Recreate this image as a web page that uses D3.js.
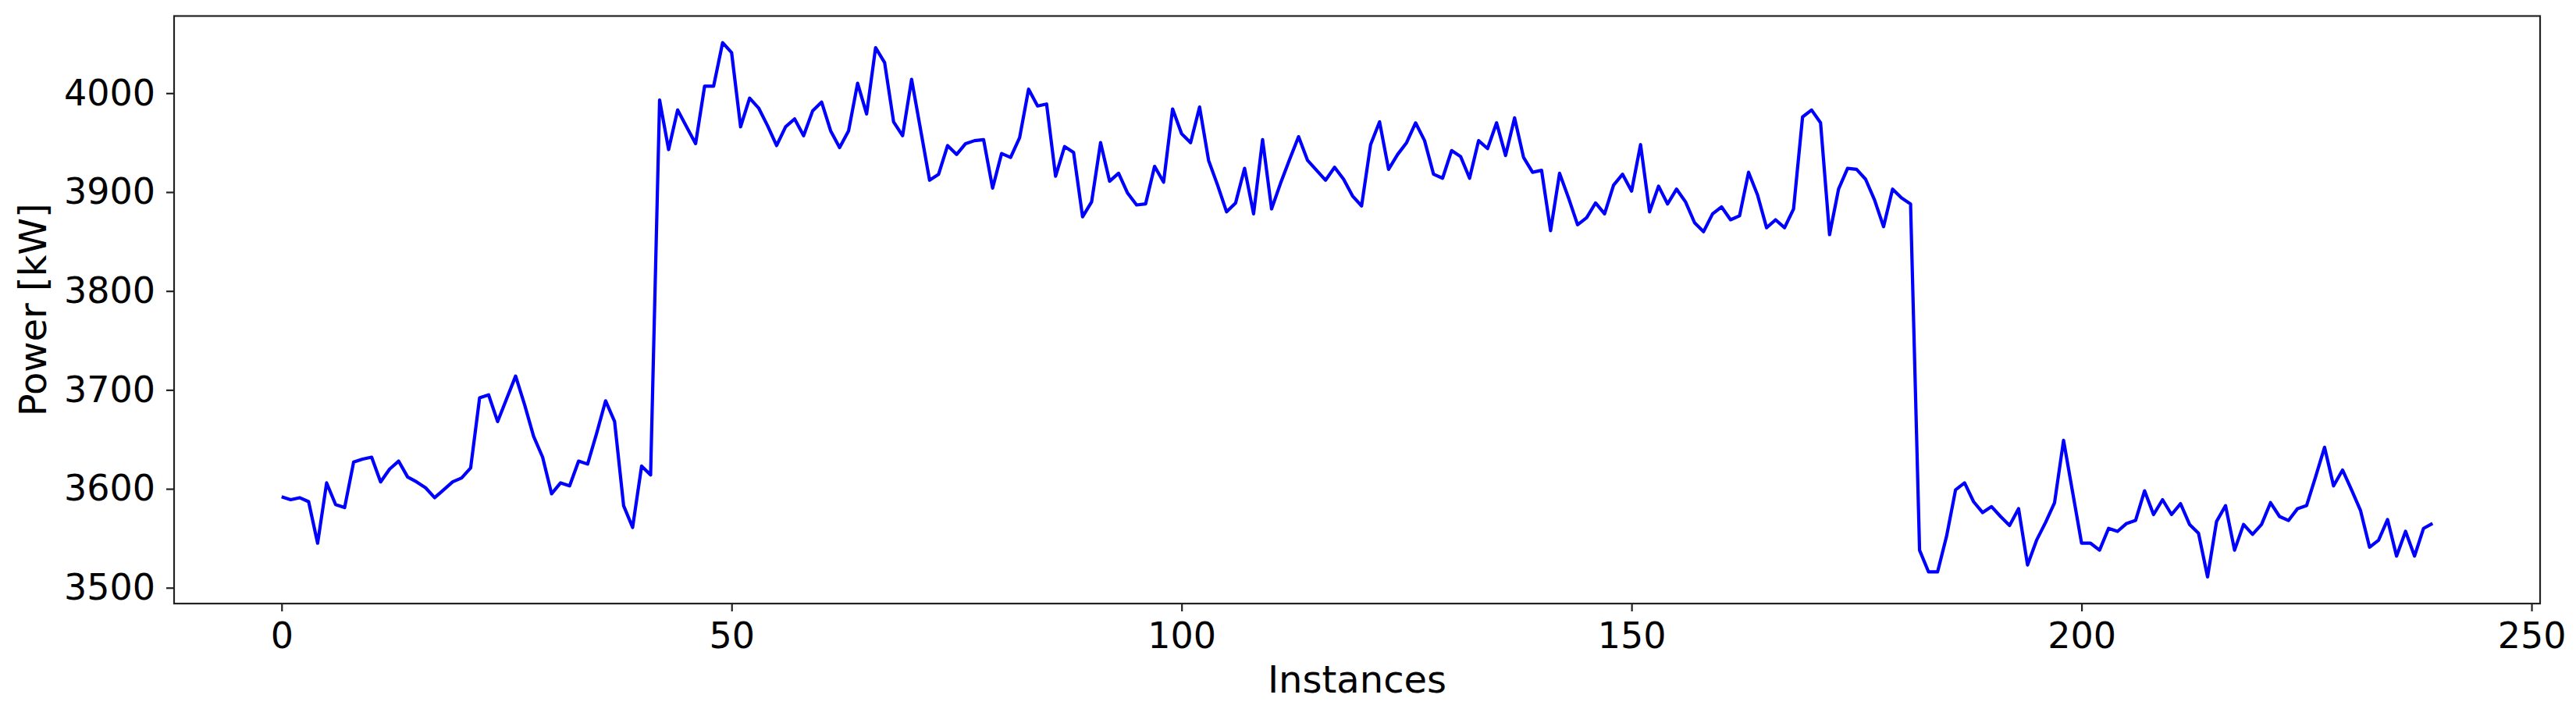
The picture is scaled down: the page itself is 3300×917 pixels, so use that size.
<!DOCTYPE html>
<html>
<head>
<meta charset="utf-8">
<script src="https://cdn.jsdelivr.net/npm/d3@7/dist/d3.min.js"></script>
<style>
  html, body { margin: 0; padding: 0; background: #fff; }
  svg { display: block; }
  text { font-family: "DejaVu Sans", sans-serif; fill: #000; }
</style>
</head>
<body>
<svg id="chart" width="3300" height="917"></svg>
<script>
// ---- data ----
const power = [
  3592, 3589, 3591, 3587, 3545, 3606, 3584, 3581, 3627, 3630,
  3632, 3607, 3620, 3628, 3612, 3607, 3601, 3591, 3599, 3607,
  3611, 3621, 3692, 3695, 3668, 3691, 3714, 3685, 3653, 3632,
  3595, 3606, 3603, 3628, 3625, 3656, 3689, 3668, 3583, 3561,
  3623, 3614, 3993, 3943, 3983, 3966, 3949, 4007, 4007, 4051,
  4041, 3966, 3995, 3985, 3967, 3947, 3966, 3974, 3957, 3982,
  3991, 3962, 3945, 3962, 4010, 3979, 4046, 4031, 3971, 3957,
  4014, 3963, 3912, 3918, 3947, 3938, 3949, 3952, 3953, 3904,
  3939, 3935, 3955, 4004, 3987, 3989, 3916, 3946, 3940, 3875,
  3890, 3950, 3911, 3919, 3899, 3887, 3888, 3926, 3910, 3984,
  3959, 3950, 3986, 3932, 3907, 3880, 3889, 3924, 3878, 3953,
  3883, 3909, 3933, 3956, 3932, 3922, 3912, 3925, 3913, 3896,
  3886, 3948, 3971, 3923, 3938, 3950, 3970, 3952, 3918, 3914,
  3942, 3936, 3914, 3952, 3944, 3970, 3937, 3975, 3935, 3920,
  3922, 3861, 3919, 3894, 3867, 3874, 3889, 3878, 3907, 3918,
  3901, 3948, 3880, 3906, 3888, 3903, 3890, 3869, 3860, 3878,
  3885, 3872, 3876, 3920, 3897, 3864, 3872, 3864, 3883, 3976,
  3983, 3970, 3857, 3903, 3924, 3923, 3913, 3892, 3865, 3903,
  3894, 3888, 3538, 3516, 3516, 3552, 3599, 3606, 3587, 3576,
  3582, 3572, 3563, 3580, 3523, 3548, 3566, 3586, 3649, 3597,
  3545, 3545, 3538, 3560, 3557, 3565, 3568, 3598, 3574, 3589,
  3574, 3585, 3564, 3555, 3511, 3567, 3583, 3538, 3564, 3554,
  3564, 3586, 3572, 3568, 3580, 3583, 3612, 3642, 3603, 3619,
  3599, 3578, 3541, 3548, 3569, 3532, 3557, 3532, 3560, 3565
];
const instances = power.map((_, i) => i);
const xTicks = [0, 50, 100, 150, 200, 250];
const yTicks = [3500, 3600, 3700, 3800, 3900, 4000];
const xLabel = "Instances";
const yLabel = "Power [kW]";

// ---- layout ----
const W = 3300, H = 917;
const plot = { left: 223, right: 3254, top: 20.5, bottom: 773 };

const svg = d3.select("#chart");

// matplotlib-like 5% margins
const xExt = d3.extent(instances), yExt = d3.extent(power);
const xPad = (xExt[1] - xExt[0]) * 0.05, yPad = (yExt[1] - yExt[0]) * 0.05;

const x = d3.scaleLinear()
  .domain([xExt[0] - xPad, xExt[1] + xPad])
  .range([plot.left, plot.right]);
const y = d3.scaleLinear()
  .domain([yExt[0] - yPad, yExt[1] + yPad])
  .range([plot.bottom, plot.top]);

// line
const line = d3.line()
  .x((d, i) => x(instances[i]))
  .y(d => y(d));

svg.append("path")
  .datum(power)
  .attr("fill", "none")
  .attr("stroke", "#0000ff")
  .attr("stroke-width", 4.2)
  .attr("stroke-linejoin", "round")
  .attr("stroke-linecap", "butt")
  .attr("d", line);

// axes
const tickFont = 46;
const xAxis = svg.append("g")
  .attr("transform", `translate(0,${plot.bottom})`)
  .call(d3.axisBottom(x).tickValues(xTicks).tickFormat(d3.format("d"))
        .tickSize(10).tickPadding(14));
const yAxis = svg.append("g")
  .attr("transform", `translate(${plot.left},0)`)
  .call(d3.axisLeft(y).tickValues(yTicks).tickFormat(d3.format("d"))
        .tickSize(10).tickPadding(14));

[xAxis, yAxis].forEach(g => {
  g.select(".domain").remove();
  g.selectAll(".tick line").attr("stroke", "#222").attr("stroke-width", 2.2);
  g.selectAll(".tick text")
    .style("font-family", "'DejaVu Sans', sans-serif")
    .style("font-size", tickFont + "px")
    .attr("fill", "#000");
});

// frame
svg.append("rect")
  .attr("x", plot.left)
  .attr("y", plot.top)
  .attr("width", plot.right - plot.left)
  .attr("height", plot.bottom - plot.top)
  .attr("fill", "none")
  .attr("stroke", "#222")
  .attr("stroke-width", 2.2);

// axis labels
svg.append("text")
  .attr("x", (plot.left + plot.right) / 2)
  .attr("y", 887)
  .attr("text-anchor", "middle")
  .style("font-size", "48px")
  .text(xLabel);

svg.append("text")
  .attr("transform", `translate(59,${(plot.top + plot.bottom) / 2}) rotate(-90)`)
  .attr("text-anchor", "middle")
  .style("font-size", "48px")
  .text(yLabel);
</script>
</body>
</html>
